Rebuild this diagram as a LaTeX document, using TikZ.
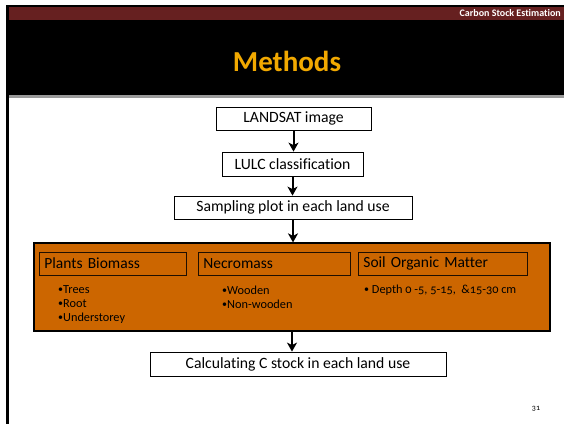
\documentclass[tikz,border=0pt]{standalone}
\usepackage{fontspec}
\setmainfont{Carlito}[Numbers=OldStyle,Ligatures=NoCommon]
\usetikzlibrary{arrows.meta}
\definecolor{bandred}{HTML}{662020}
\definecolor{titlegold}{HTML}{F2A900}
\definecolor{boxorange}{HTML}{CC6600}
\definecolor{rulegray}{HTML}{9A9A9A}
\newcommand{\smbul}{{\fontsize{10}{11}\selectfont\raisebox{1.2pt}{•}}}
\begin{document}
\begin{tikzpicture}[x=1pt,y=-1pt,
  stepbox/.style={draw=black, line width=0.8pt, fill=white, inner sep=0pt, minimum height=23pt, font=\fontsize{15.7}{18}\selectfont},
  catbox/.style={draw=black!85!boxorange, line width=0.8pt, anchor=west, minimum height=23pt, inner xsep=5pt, inner ysep=0pt, align=left, font=\fontsize{15.5}{17}\selectfont},
  bullet/.style={anchor=west, inner sep=0pt, font=\fontsize{12.3}{14}\selectfont},
  flow/.style={-{Stealth[length=9pt,width=10pt,inset=2.5pt]}, line width=2pt}]
\useasboundingbox (0,0) rectangle (564,424);
\fill[white] (0,0) rectangle (564,424);
% header
\fill[black] (6,5) rectangle (564,95);
\fill[bandred] (9,7) rectangle (564,20);
\fill[rulegray] (9,95) rectangle (564,97.5);
\fill[black] (6,5) rectangle (9,424);
\node[anchor=east, inner sep=0pt, text=white, font=\fontsize{10}{12}\selectfont\bfseries] (hdr) at (561,13) {Carbon Stock Estimation};
\node[inner sep=0pt, text=titlegold, font=\fontsize{29}{33}\selectfont\bfseries] (title) at (287,61) {Methods};
% flow
\node[stepbox, minimum width=155pt] (land) at (293.5,118.5) {LANDSAT image};
\node[stepbox, minimum width=141pt, minimum height=24pt] (lulc) at (292.5,164) {LULC classification};
\node[stepbox, minimum width=238pt] (samp) at (293,207.5) {Sampling plot in each land use};
\node[draw=black, line width=1.2pt, fill=boxorange, minimum width=516pt, minimum height=88pt, inner sep=0pt] (grp) at (292,287) {};
\node[catbox, text width=137pt] (plants) at (39,263.5) {Plants Biomass};
\node[catbox, text width=142pt] (necro) at (198,263.5) {Necromass};
\node[catbox, text width=159pt] (soil) at (358,263.5) {Soil Organic Matter};
\node[bullet] (b1) at (58,290) {\smbul Trees};
\node[bullet] (b2) at (58,304) {\smbul Root};
\node[bullet] (b3) at (58,318.5) {\smbul Understorey};
\node[bullet] (b4) at (222,290) {\smbul Wooden};
\node[bullet] (b5) at (222,304) {\smbul Non-wooden};
\node[bullet] (b6) at (364,290) {\smbul\ Depth 0 -5, 5-15,\ \ \&15-30 cm};
\node[stepbox, minimum width=296pt, minimum height=24pt] (calc) at (298,364) {Calculating C stock in each land use};
\node[inner sep=0pt, font=\fontsize{8}{9}\selectfont] (pg) at (536,409) {31};
% connectors
\draw[flow] (land.south) -- (land.south |- lulc.north);
\draw[flow] (lulc.south) -- (lulc.south |- samp.north);
\draw[flow] (samp.south) -- (samp.south |- grp.north);
\draw[flow] (grp.south) -- (grp.south |- calc.north);
\end{tikzpicture}
\end{document}
